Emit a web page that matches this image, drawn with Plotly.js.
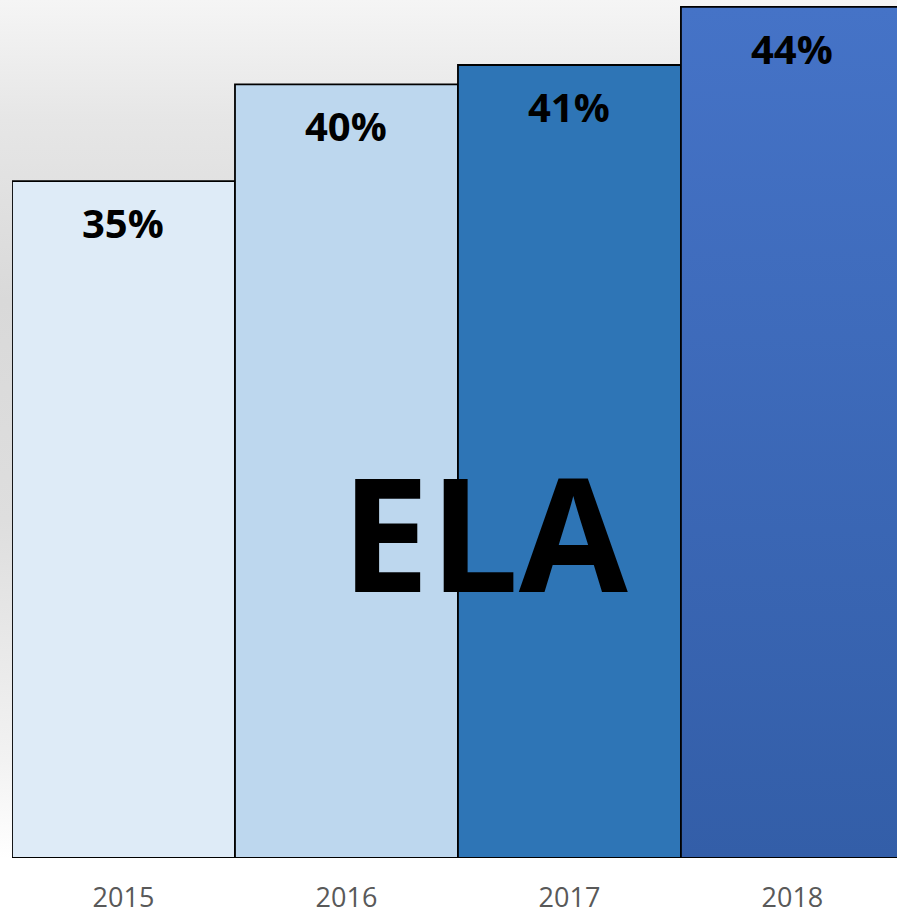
<!DOCTYPE html>
<html>
<head>
<meta charset="utf-8">
<script src="https://cdn.plot.ly/plotly-3.0.1.min.js"></script>
<style>
  html, body { margin: 0; padding: 0; width: 897px; height: 916px; overflow: hidden; }
  body { background: linear-gradient(to bottom, #f5f5f5 0px, #e6e6e6 120px, #d9d9d9 300px, #dedede 520px, #f2f2f2 760px, #ffffff 858px, #ffffff 916px); }
  #chart { width: 897px; height: 916px; }
</style>
</head>
<body>
<div id="chart"></div>
<script>
const years = ['2015', '2016', '2017', '2018'];
const elaPercent = [35, 40, 41, 44];
const labels = ['35%', '40%', '41%', '44%'];
const barColors = ['#deebf7', '#bdd7ee', '#2e75b6', '#3d69ba'];

const trace = {
  type: 'bar',
  x: years,
  y: elaPercent,
  marker: { color: barColors, line: { color: '#000000', width: 1.8 } },
  hoverinfo: 'skip',
  showlegend: false
};

const annotations = years.map((yr, i) => ({
  x: i, y: elaPercent[i], xref: 'x', yref: 'y',
  text: '<b>' + labels[i] + '</b>',
  showarrow: false, xanchor: 'center', yanchor: 'top', yshift: -12,
  font: { family: 'Open Sans, sans-serif', size: 40, color: '#000000' }
}));
annotations.push({
  xref: 'paper', yref: 'paper', x: 0.535, y: 0.3815,
  text: '<b>ELA</b>', showarrow: false, xanchor: 'center', yanchor: 'middle',
  font: { family: 'Open Sans, sans-serif', size: 158, color: '#000000' }
});

const layout = {
  width: 897, height: 916,
  margin: { l: 12, r: 0, t: 0, b: 58 },
  paper_bgcolor: 'rgba(0,0,0,0)',
  plot_bgcolor: 'rgba(0,0,0,0)',
  bargap: 0,
  xaxis: {
    type: 'category', range: [-0.5, 3.469], showgrid: false, zeroline: false,
    showline: false, ticks: '', ticklabelstandoff: 21,
    tickfont: { family: 'Open Sans, sans-serif', size: 27, color: '#595959' }
  },
  yaxis: {
    range: [0, 44.36], showgrid: false, zeroline: false, showline: false,
    showticklabels: false, ticks: ''
  },
  annotations: annotations
};

Plotly.newPlot('chart', [trace], layout, { staticPlot: true, displayModeBar: false }).then(gd => {
  const svg = gd.querySelector('svg.main-svg');
  const ns = 'http://www.w3.org/2000/svg';
  let defs = svg.querySelector('defs');
  if (!defs) { defs = document.createElementNS(ns, 'defs'); svg.insertBefore(defs, svg.firstChild); }
  const lg = document.createElementNS(ns, 'linearGradient');
  lg.setAttribute('id', 'grad2018');
  lg.setAttribute('x1', '0'); lg.setAttribute('y1', '0');
  lg.setAttribute('x2', '0'); lg.setAttribute('y2', '1');
  [['0', '#4573c7'], ['1', '#335ea8']].forEach(([o, c]) => {
    const s = document.createElementNS(ns, 'stop');
    s.setAttribute('offset', o); s.setAttribute('stop-color', c);
    lg.appendChild(s);
  });
  defs.appendChild(lg);
  const paths = gd.querySelectorAll('.trace.bars .point path');
  if (paths.length === 4) paths[3].style.fill = 'url(#grad2018)';
});
</script>
</body>
</html>
